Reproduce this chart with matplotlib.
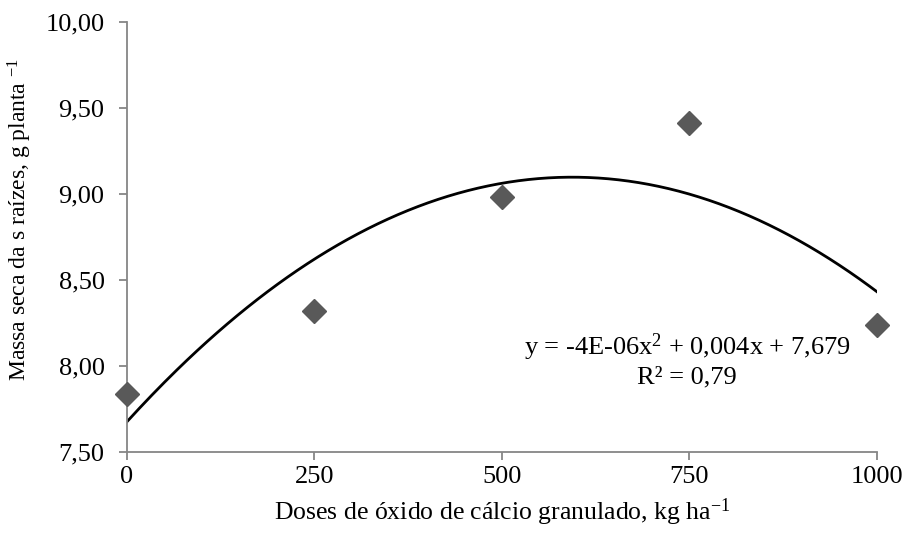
import numpy as np
import matplotlib.pyplot as plt

plt.rcParams['font.family'] = ['Liberation Serif', 'DejaVu Serif']
plt.rcParams['mathtext.fontset'] = 'custom'
plt.rcParams['mathtext.rm'] = 'Liberation Serif'
plt.rcParams['mathtext.it'] = 'Liberation Serif'

# dados
doses = np.array([0, 250, 500, 750, 1000])
massa = np.array([7.84, 8.32, 8.98, 9.41, 8.24])
xticks = [0, 250, 500, 750, 1000]
yticks = [7.5, 8.0, 8.5, 9.0, 9.5, 10.0]

# ajuste polinomial de 2º grau (linha de tendência)
coef = np.polyfit(doses, massa, 2)
xs = np.linspace(0, 1000, 300)
ys = np.polyval(coef, xs)

fig = plt.figure(figsize=(9.06, 5.35), dpi=100)
ax = fig.add_axes([0.140, 0.155, 0.828, 0.804])

ax.plot(xs, ys, color='black', lw=2, zorder=2)
ax.plot(doses, massa, 'D', color='#595959', markersize=12, zorder=3, clip_on=False)

ax.set_xlim(0, 1000)
ax.set_ylim(7.5, 10.0)
ax.set_xticks(xticks)
ax.set_yticks(yticks)
ax.set_yticklabels([f'{v:.2f}'.replace('.', ',') for v in yticks])
ax.tick_params(labelsize=19, color='#868686', length=6, width=1.3)
ax.tick_params(axis='y', pad=10)
ax.tick_params(axis='x', pad=4)

for s in ['top', 'right']:
    ax.spines[s].set_visible(False)
for s in ['left', 'bottom']:
    ax.spines[s].set_color('#868686')
    ax.spines[s].set_linewidth(1.3)

ax.set_xlabel(r'Doses de óxido de cálcio granulado, kg ha$^{\mathregular{-1}}$', fontsize=18.5, labelpad=6)
ax.set_ylabel(r'Massa seca da s raízes, g planta $^{\mathregular{-1}}$', fontsize=17)
ax.yaxis.set_label_coords(-0.124, 0.542)

ax.text(747, 8.064, r'y = -4E-06x$^{\mathregular{2}}$ + 0,004x + 7,679', fontsize=19, ha='center', va='baseline')
ax.text(747, 7.901, 'R² = 0,79', fontsize=19, ha='center', va='baseline')

plt.savefig('out.png', dpi=100)
